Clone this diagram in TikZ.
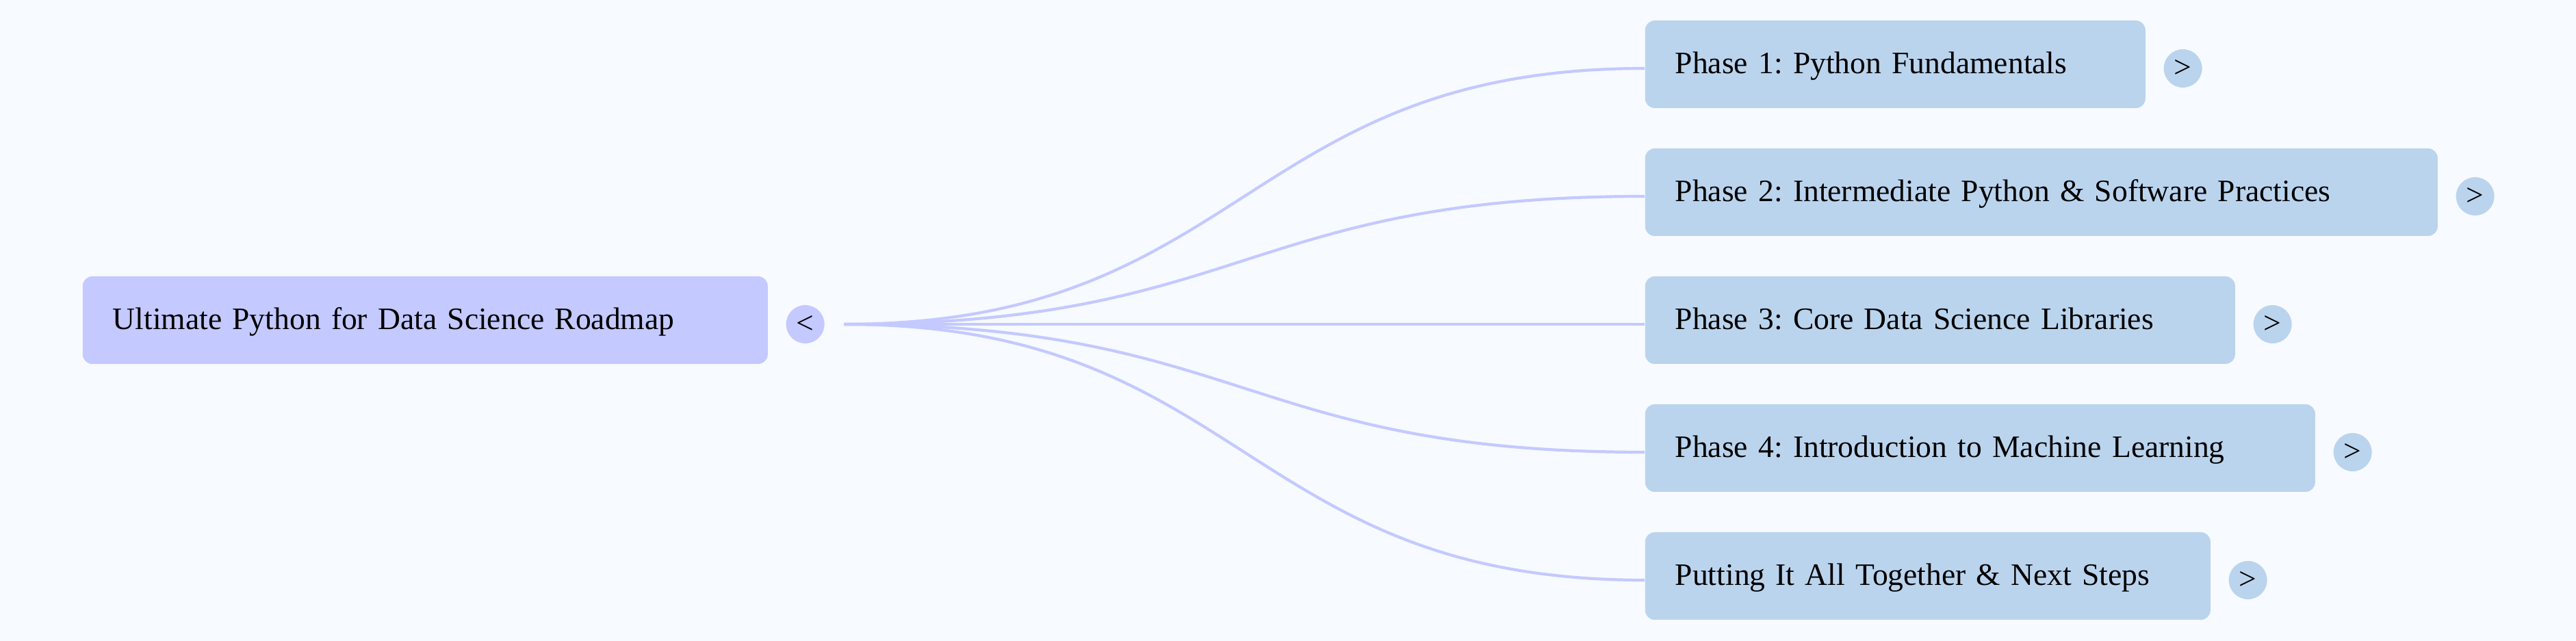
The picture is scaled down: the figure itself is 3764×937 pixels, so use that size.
\documentclass[tikz,border=0pt]{standalone}
\usepackage{fontspec}
\setmainfont{Liberation Serif}
\usetikzlibrary{calc}
\definecolor{bg}{RGB}{247,250,255}
\definecolor{rootc}{RGB}{196,201,255}
\definecolor{phasec}{RGB}{187,212,238}
\frenchspacing
\begin{document}
\begin{tikzpicture}[x=0.25pt,y=-0.25pt,
  box/.style={rounded corners=3.5pt, inner xsep=11pt, inner ysep=0pt, minimum height=32pt,
    text height=9pt, text depth=2pt,
    anchor=west, align=left, font=\fontsize{11.4}{14}\selectfont},
  rootbox/.style={box, fill=rootc},
  phasebox/.style={box, fill=phasec},
  toggle/.style={circle, minimum size=14pt, inner sep=0pt, font=\fontsize{11.4}{14}\selectfont},
  link/.style={draw=rootc, line width=1.05pt}]
\fill[bg] (0,0) rectangle (3764,937);
\useasboundingbox (0,0) rectangle (3764,937);

\node[rootbox, text width=228.25pt] (root) at (120,468) {Ultimate Python for Data Science Roadmap};
\node[toggle, fill=rootc] (rtog) at ($(root.east)+(54,6)$) {<};
\coordinate (hub) at ($(rtog.east)+(28,0)$);

\node[phasebox, text width=160.75pt] (p1) at (2403,94) {Phase 1: Python Fundamentals};
\node[phasebox, text width=267.5pt] (p2) at (2403,281) {Phase 2: Intermediate Python \& Software Practices};
\node[phasebox, text width=193.5pt] (p3) at (2403,468) {Phase 3: Core Data Science Libraries};
\node[phasebox, text width=222.75pt] (p4) at (2403,655) {Phase 4: Introduction to Machine Learning};
\node[phasebox, text width=184.5pt] (p5) at (2403,842) {Putting It All Together \& Next Steps};

\foreach \i in {1,...,5}{
  \node[toggle, fill=phasec] (t\i) at ($(p\i.east)+(54,6)$) {>};
  \coordinate (e\i) at ($(p\i.west)+(0,6)$);
  \draw[link] (hub) .. controls +(586,0) and +(-586,0) .. (e\i);
}
\end{tikzpicture}
\end{document}
